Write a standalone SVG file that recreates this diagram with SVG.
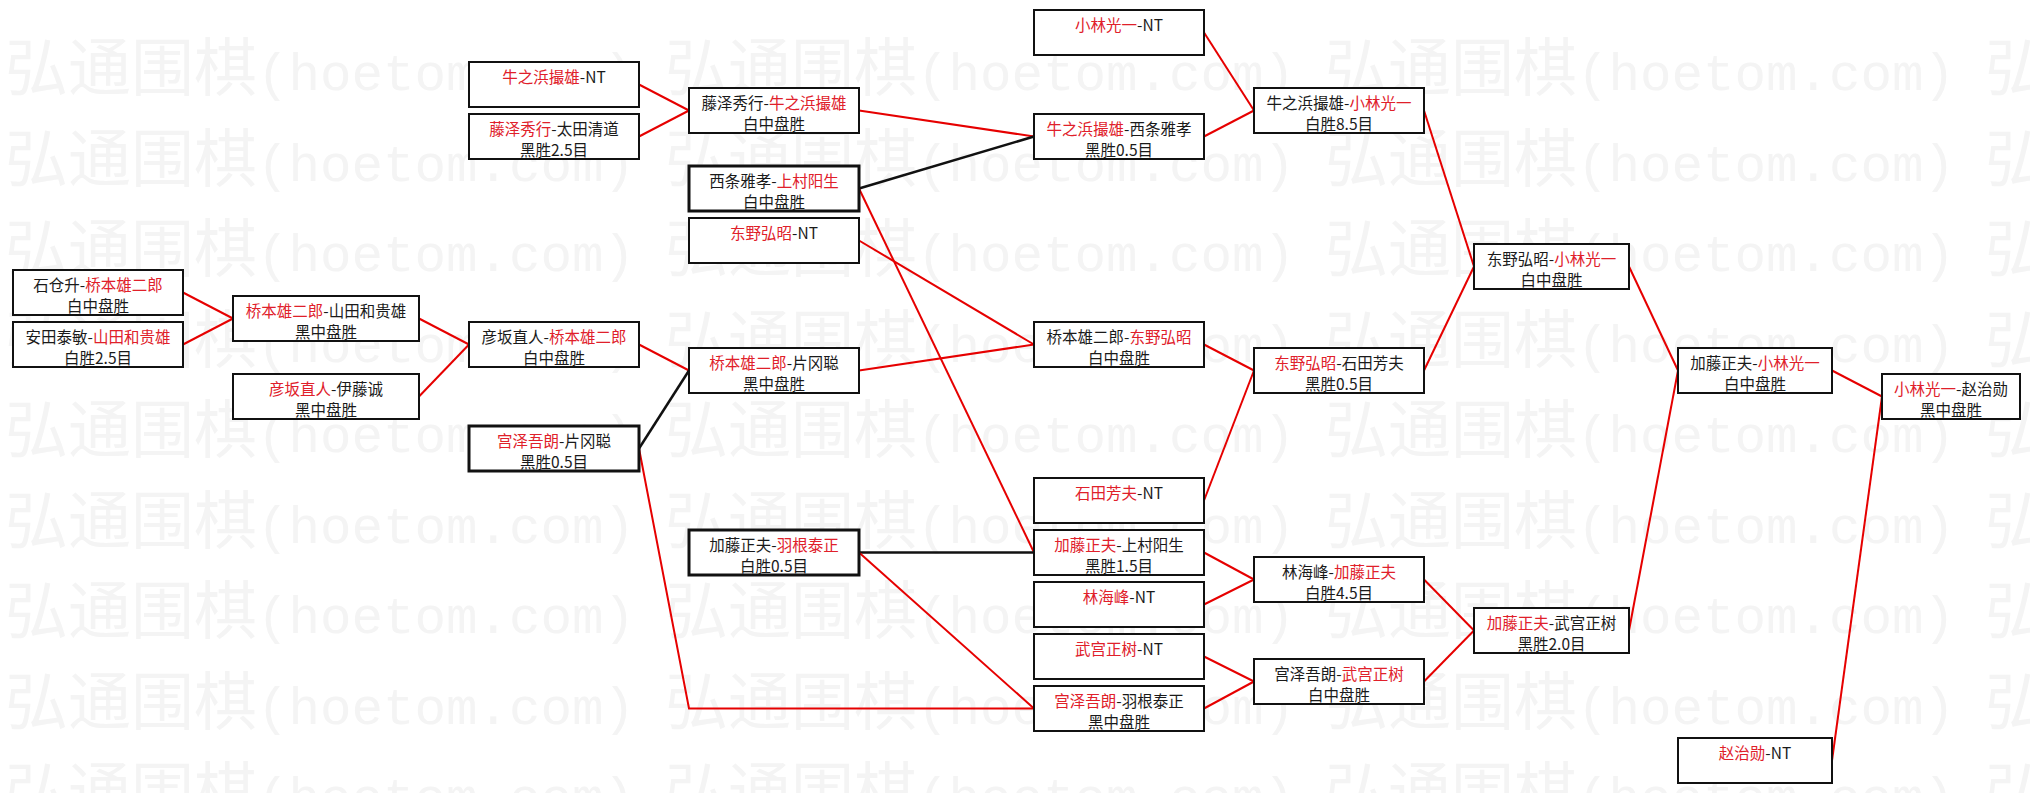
<svg xmlns="http://www.w3.org/2000/svg" width="2030" height="793" viewBox="0 0 2030 793">
<style>
.b{fill:#fff;stroke:#111;stroke-width:2}
.bb{fill:#fff;stroke:#111;stroke-width:3}
.t{font-family:"Noto Sans CJK SC","Noto Sans CJK JP",sans-serif;font-size:15.5px;fill:#1a1a1a;text-anchor:middle}
.r{fill:#e0202a}
.cr{fill:none;stroke:#e60000;stroke-width:2}
.ck{fill:none;stroke:#111;stroke-width:2.5}
.wm{font-size:63px;fill:#f4f4f4}
.wc{font-family:"Noto Sans CJK SC",sans-serif}
.wa{font-family:"Liberation Mono",monospace;font-size:52.5px}
</style>
<rect x="0" y="0" width="2030" height="793" fill="#fff"/>
<g id="watermark" class="wm">
<text x="5" y="90"><tspan class="wc">弘通围棋</tspan><tspan class="wa">(hoetom.com)</tspan></text>
<text x="665" y="90"><tspan class="wc">弘通围棋</tspan><tspan class="wa">(hoetom.com)</tspan></text>
<text x="1325" y="90"><tspan class="wc">弘通围棋</tspan><tspan class="wa">(hoetom.com)</tspan></text>
<text x="1985" y="90"><tspan class="wc">弘</tspan></text>
<text x="5" y="180.5"><tspan class="wc">弘通围棋</tspan><tspan class="wa">(hoetom.com)</tspan></text>
<text x="665" y="180.5"><tspan class="wc">弘通围棋</tspan><tspan class="wa">(hoetom.com)</tspan></text>
<text x="1325" y="180.5"><tspan class="wc">弘通围棋</tspan><tspan class="wa">(hoetom.com)</tspan></text>
<text x="1985" y="180.5"><tspan class="wc">弘</tspan></text>
<text x="5" y="271"><tspan class="wc">弘通围棋</tspan><tspan class="wa">(hoetom.com)</tspan></text>
<text x="665" y="271"><tspan class="wc">弘通围棋</tspan><tspan class="wa">(hoetom.com)</tspan></text>
<text x="1325" y="271"><tspan class="wc">弘通围棋</tspan><tspan class="wa">(hoetom.com)</tspan></text>
<text x="1985" y="271"><tspan class="wc">弘</tspan></text>
<text x="5" y="361.5"><tspan class="wc">弘通围棋</tspan><tspan class="wa">(hoetom.com)</tspan></text>
<text x="665" y="361.5"><tspan class="wc">弘通围棋</tspan><tspan class="wa">(hoetom.com)</tspan></text>
<text x="1325" y="361.5"><tspan class="wc">弘通围棋</tspan><tspan class="wa">(hoetom.com)</tspan></text>
<text x="1985" y="361.5"><tspan class="wc">弘</tspan></text>
<text x="5" y="452"><tspan class="wc">弘通围棋</tspan><tspan class="wa">(hoetom.com)</tspan></text>
<text x="665" y="452"><tspan class="wc">弘通围棋</tspan><tspan class="wa">(hoetom.com)</tspan></text>
<text x="1325" y="452"><tspan class="wc">弘通围棋</tspan><tspan class="wa">(hoetom.com)</tspan></text>
<text x="1985" y="452"><tspan class="wc">弘</tspan></text>
<text x="5" y="542.5"><tspan class="wc">弘通围棋</tspan><tspan class="wa">(hoetom.com)</tspan></text>
<text x="665" y="542.5"><tspan class="wc">弘通围棋</tspan><tspan class="wa">(hoetom.com)</tspan></text>
<text x="1325" y="542.5"><tspan class="wc">弘通围棋</tspan><tspan class="wa">(hoetom.com)</tspan></text>
<text x="1985" y="542.5"><tspan class="wc">弘</tspan></text>
<text x="5" y="633"><tspan class="wc">弘通围棋</tspan><tspan class="wa">(hoetom.com)</tspan></text>
<text x="665" y="633"><tspan class="wc">弘通围棋</tspan><tspan class="wa">(hoetom.com)</tspan></text>
<text x="1325" y="633"><tspan class="wc">弘通围棋</tspan><tspan class="wa">(hoetom.com)</tspan></text>
<text x="1985" y="633"><tspan class="wc">弘</tspan></text>
<text x="5" y="723.5"><tspan class="wc">弘通围棋</tspan><tspan class="wa">(hoetom.com)</tspan></text>
<text x="665" y="723.5"><tspan class="wc">弘通围棋</tspan><tspan class="wa">(hoetom.com)</tspan></text>
<text x="1325" y="723.5"><tspan class="wc">弘通围棋</tspan><tspan class="wa">(hoetom.com)</tspan></text>
<text x="1985" y="723.5"><tspan class="wc">弘</tspan></text>
<text x="5" y="814"><tspan class="wc">弘通围棋</tspan><tspan class="wa">(hoetom.com)</tspan></text>
<text x="665" y="814"><tspan class="wc">弘通围棋</tspan><tspan class="wa">(hoetom.com)</tspan></text>
<text x="1325" y="814"><tspan class="wc">弘通围棋</tspan><tspan class="wa">(hoetom.com)</tspan></text>
<text x="1985" y="814"><tspan class="wc">弘</tspan></text>
</g>
<g id="connectors">
<polyline class="cr" points="183,292.5 233,318.5"/>
<polyline class="cr" points="183,344.5 233,318.5"/>
<polyline class="cr" points="419,318.5 469,344.5"/>
<polyline class="cr" points="419,396.5 469,344.5"/>
<polyline class="cr" points="639,84.5 689,110.5"/>
<polyline class="cr" points="639,136.5 689,110.5"/>
<polyline class="cr" points="639,344.5 689,370.5"/>
<polyline class="ck" points="639,448.5 689,370.5"/>
<polyline class="cr" points="639,448.5 689,708.5 1034,708.5"/>
<polyline class="cr" points="859,110.5 1034,136.5"/>
<polyline class="ck" points="859,188.5 1034,136.5"/>
<polyline class="cr" points="859,188.5 1034,552.5"/>
<polyline class="cr" points="859,240.5 1034,344.5"/>
<polyline class="cr" points="859,370.5 1034,344.5"/>
<polyline class="ck" points="859,552.5 1034,552.5"/>
<polyline class="cr" points="859,552.5 1034,708.5"/>
<polyline class="cr" points="1204,32.5 1254,110.5"/>
<polyline class="cr" points="1204,136.5 1254,110.5"/>
<polyline class="cr" points="1204,344.5 1254,370.5"/>
<polyline class="cr" points="1204,500.5 1254,370.5"/>
<polyline class="cr" points="1204,552.5 1254,579.5"/>
<polyline class="cr" points="1204,604.5 1254,579.5"/>
<polyline class="cr" points="1204,656.5 1254,681.5"/>
<polyline class="cr" points="1204,708.5 1254,681.5"/>
<polyline class="cr" points="1424,110.5 1474,266.5"/>
<polyline class="cr" points="1424,370.5 1474,266.5"/>
<polyline class="cr" points="1424,579.5 1474,630.5"/>
<polyline class="cr" points="1424,681.5 1474,630.5"/>
<polyline class="cr" points="1629,266.5 1678,370.5"/>
<polyline class="cr" points="1629,630.5 1678,370.5"/>
<polyline class="cr" points="1832,370.5 1882,396.5"/>
<polyline class="cr" points="1832,760.5 1882,396.5"/>
</g>
<g id="n-shikura"><rect class="b" x="13" y="270" width="170" height="45"/><text class="t" x="98" y="291">石仓升-<tspan class="r">桥本雄二郎</tspan></text><text class="t" x="98" y="311.5">白中盘胜</text></g>
<g id="n-yasuda"><rect class="b" x="13" y="322" width="170" height="45"/><text class="t" x="98" y="343">安田泰敏-<tspan class="r">山田和贵雄</tspan></text><text class="t" x="98" y="363.5">白胜2.5目</text></g>
<g id="n-hashimoto-yamada"><rect class="b" x="233" y="296" width="186" height="45"/><text class="t" x="326" y="317"><tspan class="r">桥本雄二郎</tspan>-山田和贵雄</text><text class="t" x="326" y="337.5">黑中盘胜</text></g>
<g id="n-hikosaka-ito"><rect class="b" x="233" y="374" width="186" height="45"/><text class="t" x="326" y="395"><tspan class="r">彦坂直人</tspan>-伊藤诚</text><text class="t" x="326" y="415.5">黑中盘胜</text></g>
<g id="n-ushinohama-nt"><rect class="b" x="469" y="62" width="170" height="45"/><text class="t" x="554" y="83"><tspan class="r">牛之浜撮雄</tspan>-NT</text></g>
<g id="n-fujisawa-ota"><rect class="b" x="469" y="114" width="170" height="45"/><text class="t" x="554" y="135"><tspan class="r">藤泽秀行</tspan>-太田清道</text><text class="t" x="554" y="155.5">黑胜2.5目</text></g>
<g id="n-hikosaka-hashimoto"><rect class="b" x="469" y="322" width="170" height="45"/><text class="t" x="554" y="343">彦坂直人-<tspan class="r">桥本雄二郎</tspan></text><text class="t" x="554" y="363.5">白中盘胜</text></g>
<g id="n-miyazawa-kataoka"><rect class="bb" x="469" y="426" width="170" height="45"/><text class="t" x="554" y="447"><tspan class="r">宫泽吾朗</tspan>-片冈聪</text><text class="t" x="554" y="467.5">黑胜0.5目</text></g>
<g id="n-fujisawa-ushinohama"><rect class="b" x="689" y="88" width="170" height="45"/><text class="t" x="774" y="109">藤泽秀行-<tspan class="r">牛之浜撮雄</tspan></text><text class="t" x="774" y="129.5">白中盘胜</text></g>
<g id="n-saijo-kamimura"><rect class="bb" x="689" y="166" width="170" height="45"/><text class="t" x="774" y="187">西条雅孝-<tspan class="r">上村阳生</tspan></text><text class="t" x="774" y="207.5">白中盘胜</text></g>
<g id="n-tono-nt"><rect class="b" x="689" y="218" width="170" height="45"/><text class="t" x="774" y="239"><tspan class="r">东野弘昭</tspan>-NT</text></g>
<g id="n-hashimoto-kataoka"><rect class="b" x="689" y="348" width="170" height="45"/><text class="t" x="774" y="369"><tspan class="r">桥本雄二郎</tspan>-片冈聪</text><text class="t" x="774" y="389.5">黑中盘胜</text></g>
<g id="n-kato-hane"><rect class="bb" x="689" y="530" width="170" height="45"/><text class="t" x="774" y="551">加藤正夫-<tspan class="r">羽根泰正</tspan></text><text class="t" x="774" y="571.5">白胜0.5目</text></g>
<g id="n-kobayashi-nt"><rect class="b" x="1034" y="10" width="170" height="45"/><text class="t" x="1119" y="31"><tspan class="r">小林光一</tspan>-NT</text></g>
<g id="n-ushinohama-saijo"><rect class="b" x="1034" y="114" width="170" height="45"/><text class="t" x="1119" y="135"><tspan class="r">牛之浜撮雄</tspan>-西条雅孝</text><text class="t" x="1119" y="155.5">黑胜0.5目</text></g>
<g id="n-hashimoto-tono"><rect class="b" x="1034" y="322" width="170" height="45"/><text class="t" x="1119" y="343">桥本雄二郎-<tspan class="r">东野弘昭</tspan></text><text class="t" x="1119" y="363.5">白中盘胜</text></g>
<g id="n-ishida-nt"><rect class="b" x="1034" y="478" width="170" height="45"/><text class="t" x="1119" y="499"><tspan class="r">石田芳夫</tspan>-NT</text></g>
<g id="n-kato-kamimura"><rect class="b" x="1034" y="530" width="170" height="45"/><text class="t" x="1119" y="551"><tspan class="r">加藤正夫</tspan>-上村阳生</text><text class="t" x="1119" y="571.5">黑胜1.5目</text></g>
<g id="n-rin-nt"><rect class="b" x="1034" y="582" width="170" height="45"/><text class="t" x="1119" y="603"><tspan class="r">林海峰</tspan>-NT</text></g>
<g id="n-takemiya-nt"><rect class="b" x="1034" y="634" width="170" height="45"/><text class="t" x="1119" y="655"><tspan class="r">武宫正树</tspan>-NT</text></g>
<g id="n-miyazawa-hane"><rect class="b" x="1034" y="686" width="170" height="45"/><text class="t" x="1119" y="707"><tspan class="r">宫泽吾朗</tspan>-羽根泰正</text><text class="t" x="1119" y="727.5">黑中盘胜</text></g>
<g id="n-ushinohama-kobayashi"><rect class="b" x="1254" y="88" width="170" height="45"/><text class="t" x="1339" y="109">牛之浜撮雄-<tspan class="r">小林光一</tspan></text><text class="t" x="1339" y="129.5">白胜8.5目</text></g>
<g id="n-tono-ishida"><rect class="b" x="1254" y="348" width="170" height="45"/><text class="t" x="1339" y="369"><tspan class="r">东野弘昭</tspan>-石田芳夫</text><text class="t" x="1339" y="389.5">黑胜0.5目</text></g>
<g id="n-rin-kato"><rect class="b" x="1254" y="557" width="170" height="45"/><text class="t" x="1339" y="578">林海峰-<tspan class="r">加藤正夫</tspan></text><text class="t" x="1339" y="598.5">白胜4.5目</text></g>
<g id="n-miyazawa-takemiya"><rect class="b" x="1254" y="659" width="170" height="45"/><text class="t" x="1339" y="680">宫泽吾朗-<tspan class="r">武宫正树</tspan></text><text class="t" x="1339" y="700.5">白中盘胜</text></g>
<g id="n-tono-kobayashi"><rect class="b" x="1474" y="244" width="155" height="45"/><text class="t" x="1551.5" y="265">东野弘昭-<tspan class="r">小林光一</tspan></text><text class="t" x="1551.5" y="285.5">白中盘胜</text></g>
<g id="n-kato-takemiya"><rect class="b" x="1474" y="608" width="155" height="45"/><text class="t" x="1551.5" y="629"><tspan class="r">加藤正夫</tspan>-武宫正树</text><text class="t" x="1551.5" y="649.5">黑胜2.0目</text></g>
<g id="n-kato-kobayashi"><rect class="b" x="1678" y="348" width="154" height="45"/><text class="t" x="1755" y="369">加藤正夫-<tspan class="r">小林光一</tspan></text><text class="t" x="1755" y="389.5">白中盘胜</text></g>
<g id="n-cho-nt"><rect class="b" x="1678" y="738" width="154" height="45"/><text class="t" x="1755" y="759"><tspan class="r">赵治勋</tspan>-NT</text></g>
<g id="n-kobayashi-cho"><rect class="b" x="1882" y="374" width="138" height="45"/><text class="t" x="1951" y="395"><tspan class="r">小林光一</tspan>-赵治勋</text><text class="t" x="1951" y="415.5">黑中盘胜</text></g>
</svg>
